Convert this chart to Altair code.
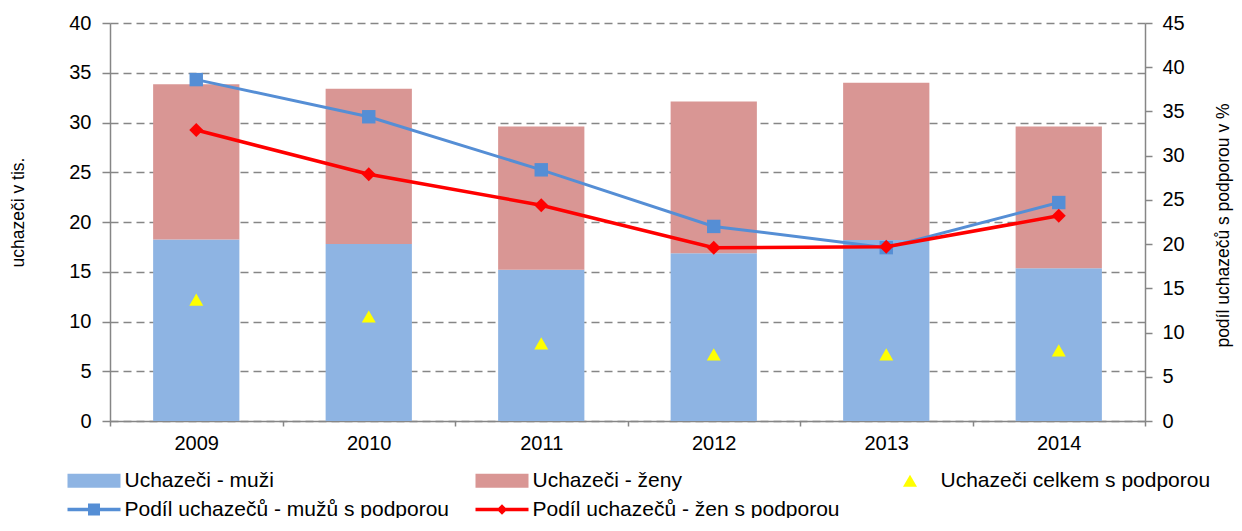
import altair as alt
import pandas as pd

# ---- data ----
years = ["2009", "2010", "2011", "2012", "2013", "2014"]
muzi = [18.25, 17.8, 15.2, 16.85, 18.2, 15.35]          # Uchazeči - muži (tis.)
zeny = [15.6, 15.6, 14.4, 15.25, 15.8, 14.25]           # Uchazeči - ženy (tis.)
celkem_s_podporou = [12.2, 10.5, 7.8, 6.7, 6.7, 7.1]    # Uchazeči celkem s podporou (tis.)
podil_muzi = [38.6, 34.4, 28.4, 22.0, 19.6, 24.7]       # % mužů s podporou
podil_zeny = [32.9, 27.9, 24.4, 19.6, 19.7, 23.2]       # % žen s podporou

series = [
    "Uchazeči - muži",
    "Uchazeči - ženy",
    "Uchazeči celkem s podporou",
    "Podíl uchazečů - mužů s podporou",
    "Podíl uchazečů - žen s podporou",
]
colors = ["#8EB4E3", "#D99694", "#FFFF00", "#558ED5", "#FF0000"]

# legend / marker shapes (unit = sqrt(size)/2)
rect_path = "M-3.786,-1H3.786V1H-3.786Z"
tri_path = "M0,-0.87L1,0.87L-1,0.87Z"
line_sq_path = "M-3.786,-0.25H3.786V0.25H-3.786Z M-0.857,-0.857H0.857V0.857H-0.857Z"
line_dia_path = "M-3.786,-0.25H3.786V0.25H-3.786Z M0,-0.75L0.75,0L0,0.75L-0.75,0Z"
shapes = [rect_path, rect_path, tri_path, line_sq_path, line_dia_path]

FONT = "Liberation Sans"
GRAY = "#868686"

df_bars = pd.DataFrame({
    "rok": years * 2,
    "serie": [series[0]] * 6 + [series[1]] * 6,
    "poradi": [0] * 6 + [1] * 6,
    "hodnota": muzi + zeny,
})
df_tri = pd.DataFrame({"rok": years, "serie": [series[2]] * 6, "hodnota": celkem_s_podporou})
df_lines = pd.DataFrame({"rok": years, "muzi": podil_muzi, "zeny": podil_zeny})

color_scale = alt.Scale(domain=series, range=colors)
shape_scale = alt.Scale(domain=series, range=shapes)

x_axis = alt.Axis(labelAngle=0, tickBand="extent", tickSize=5, labelPadding=7,
                  labelFontSize=20, grid=False)
x_scale = alt.Scale(paddingInner=0, paddingOuter=0)


def xe():
    return alt.X("rok:N", title=None, sort=years, scale=x_scale, axis=x_axis)


left_title = "uchazeči v tis."
left_scale = alt.Scale(domain=[0, 40], nice=False)
left_axis = alt.Axis(values=list(range(0, 41, 5)), grid=True, gridDash=[8, 5],
                     gridColor=GRAY, gridWidth=1.5, tickSize=8, labelPadding=11,
                     titleX=-92, titleY=189, titleAngle=270, titleAlign="center",
                     titleBaseline="middle")

right_title = "podíl uchazečů s podporou v %"
right_scale = alt.Scale(domain=[0, 45], nice=False)
right_axis = alt.Axis(orient="right", values=list(range(0, 46, 5)), grid=False,
                      tickSize=7, labelPadding=10, titleX=78, titleY=202,
                      titleAngle=270, titleAlign="center", titleBaseline="middle")

legend_def = alt.Legend(
    title=None, orient="none", legendX=-46, legendY=447, columns=3,
    direction="horizontal", gridAlign="all", columnPadding=22, rowPadding=7,
    padding=0, symbolSize=196, symbolStrokeWidth=0, symbolOffset=19.5,
    labelOffset=20, labelFont=FONT, labelFontSize=21, labelColor="black",
    labelLimit=600,
)

bars = alt.Chart(df_bars).mark_bar(width=alt.RelativeBandSize(0.5)).encode(
    x=xe(),
    y=alt.Y("hodnota:Q", stack="zero", title=left_title, scale=left_scale, axis=left_axis),
    color=alt.Color("serie:N", scale=color_scale, legend=legend_def),
    order=alt.Order("poradi:Q"),
)

tri = alt.Chart(df_tri).mark_point(filled=True, opacity=1, size=196, strokeWidth=0).encode(
    x=xe(),
    y=alt.Y("hodnota:Q", title=left_title, scale=left_scale, axis=left_axis),
    color=alt.Color("serie:N", scale=color_scale, legend=legend_def),
    shape=alt.Shape("serie:N", scale=shape_scale, legend=legend_def),
)


def ye(field):
    return alt.Y(field, type="quantitative", title=right_title, scale=right_scale, axis=right_axis)


line_m = alt.Chart(df_lines).mark_line(color="#558ED5", strokeWidth=3).encode(x=xe(), y=ye("muzi"))
pts_m = alt.Chart(df_lines).mark_point(shape="square", filled=True, size=180,
                                       color="#558ED5", opacity=1).encode(x=xe(), y=ye("muzi"))
line_z = alt.Chart(df_lines).mark_line(color="#FF0000", strokeWidth=3.5).encode(x=xe(), y=ye("zeny"))
pts_z = alt.Chart(df_lines).mark_point(shape="diamond", filled=True, size=196,
                                       color="#FF0000", opacity=1).encode(x=xe(), y=ye("zeny"))

left = alt.layer(bars, tri)
right = alt.layer(line_m, pts_m, line_z, pts_z)

chart = (
    alt.layer(left, right)
    .resolve_scale(y="independent")
    .properties(
        width=1035, height=398,
        autosize=alt.AutoSizeParams(type="none"),
        padding={"left": 102, "top": 15, "right": 89, "bottom": 97},
    )
    .configure_view(stroke=None)
    .configure_axis(
        labelFont=FONT, titleFont=FONT, labelColor="black", titleColor="black",
        labelFontSize=20, titleFontSize=17.5, titleFontWeight="normal",
        domainColor=GRAY, tickColor=GRAY, domainWidth=1.5, tickWidth=1.5,
    )
)

chart.save("out.html", embed_options={"renderer": "svg", "actions": False})
